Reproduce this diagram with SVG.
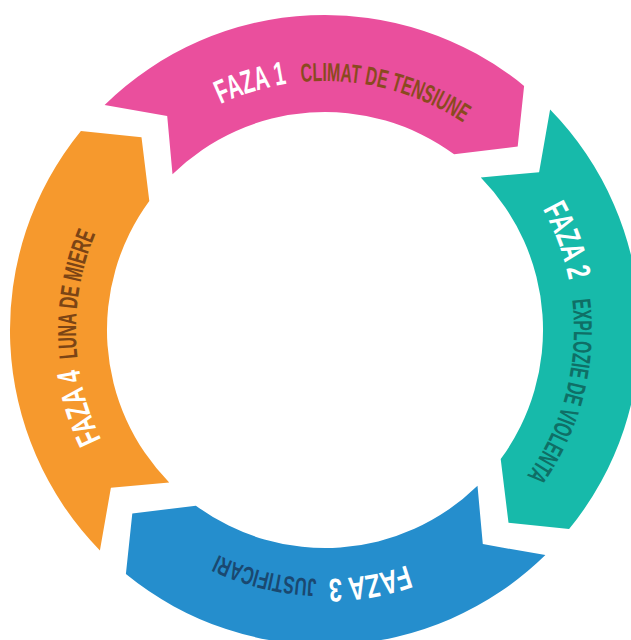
<svg xmlns="http://www.w3.org/2000/svg" xmlns:xlink="http://www.w3.org/1999/xlink" width="631" height="640" viewBox="0 0 631 640">
  <style>
    .faza { font-family: "Liberation Sans Narrow", "Liberation Sans", Arial, sans-serif; font-weight: bold; font-size: 33px; fill: #ffffff; }
    .sub { font-family: "Liberation Sans Narrow", "Liberation Sans", Arial, sans-serif; font-weight: bold; font-size: 26px; }
  </style>
  <defs>
    <path id="seg" d="M104.6,104.9 A315,315 0 0 1 524.1,85.9 L517.7,146.5 L454.1,154.3 A218,218 0 0 0 172.5,174.2 L167.2,115.9 Z"/>
    <path id="tp" d="M150.8,152.1 A249,249 0 0 1 502.9,155.8" fill="none"/>
  </defs>
  <rect width="631" height="640" fill="#ffffff"/>

  <g id="faza1">
    <use xlink:href="#seg" href="#seg" fill="#EA4F9D"/>
    <text class="faza"><textPath xlink:href="#tp" href="#tp" startOffset="85.2" textLength="69.5" lengthAdjust="spacingAndGlyphs">FAZA 1</textPath></text>
    <text class="sub" fill="#8A4A1E"><textPath xlink:href="#tp" href="#tp" startOffset="169.1" textLength="170" lengthAdjust="spacingAndGlyphs">CLIMAT DE TENSIUNE</textPath></text>
  </g>

  <g id="faza2" transform="rotate(90 325 330)">
    <use xlink:href="#seg" href="#seg" fill="#17BAAA"/>
    <text class="faza"><textPath xlink:href="#tp" href="#tp" startOffset="66.5" textLength="76.5" lengthAdjust="spacingAndGlyphs">FAZA 2</textPath></text>
    <text class="sub" fill="#0F6F66"><textPath xlink:href="#tp" href="#tp" startOffset="162.5" textLength="186" lengthAdjust="spacingAndGlyphs">EXPLOZIE DE VIOLENTA</textPath></text>
  </g>

  <g id="faza3" transform="rotate(180 325 330)">
    <use xlink:href="#seg" href="#seg" fill="#258ECD"/>
    <text class="faza"><textPath xlink:href="#tp" href="#tp" startOffset="109.5" textLength="80" lengthAdjust="spacingAndGlyphs">FAZA 3</textPath></text>
    <text class="sub" fill="#1A4870" style="font-size:25px"><textPath xlink:href="#tp" href="#tp" startOffset="201.2" textLength="102" lengthAdjust="spacingAndGlyphs">JUSTIFICARI</textPath></text>
  </g>

  <g id="faza4" transform="rotate(270 325 330)">
    <use xlink:href="#seg" href="#seg" fill="#F6992D"/>
    <text class="faza"><textPath xlink:href="#tp" href="#tp" startOffset="79.5" textLength="74.3" lengthAdjust="spacingAndGlyphs">FAZA 4</textPath></text>
    <text class="sub" fill="#7B4415"><textPath xlink:href="#tp" href="#tp" startOffset="164.7" textLength="127" lengthAdjust="spacingAndGlyphs">LUNA DE MIERE</textPath></text>
  </g>

  <g id="connectors"></g>
</svg>
